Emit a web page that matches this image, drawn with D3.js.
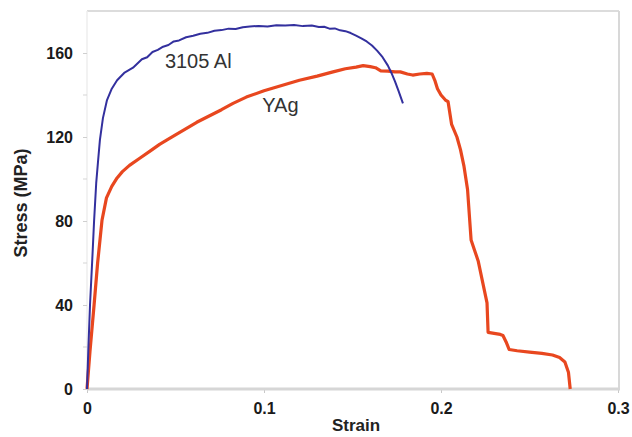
<!DOCTYPE html>
<html>
<head>
<meta charset="utf-8">
<script src="https://cdn.jsdelivr.net/npm/d3@7/dist/d3.min.js"></script>
<style>
  html, body { margin: 0; padding: 0; background: #fff; }
  svg { display: block; }
  text { font-family: Arial, "Liberation Sans", sans-serif; }
</style>
</head>
<body>
<svg id="chart" width="632" height="437"></svg>
<script>
// Tensile test curves: engineering strain vs stress (MPa)
const seriesNames = ["3105 Al", "YAg"];

const strainAl = [0, 0.0008, 0.0017, 0.003, 0.004, 0.0052, 0.0062, 0.0073, 0.009, 0.0113, 0.014, 0.017,
  0.021, 0.026, 0.031, 0.034, 0.037, 0.040, 0.043, 0.046, 0.049, 0.052, 0.056, 0.060, 0.064, 0.068,
  0.072, 0.076, 0.080, 0.084, 0.088, 0.092, 0.097, 0.102, 0.107, 0.112, 0.117, 0.122, 0.127, 0.131,
  0.134, 0.137, 0.140, 0.143, 0.146, 0.149, 0.152, 0.155, 0.158, 0.161, 0.164, 0.167, 0.170, 0.172,
  0.174, 0.176, 0.1785];
const stressAl = [0, 20, 40, 62, 80, 98, 108, 118.6, 129, 137.6, 143, 147,
  150.5, 153, 157, 158, 160.5, 161.5, 163, 163.8, 165.5, 166, 167.5, 168.2, 169.2, 169.6,
  170.6, 170.9, 171.6, 171.4, 172.3, 172.6, 172.9, 172.6, 173.2, 173.1, 173.3, 172.8, 173.1, 172.4,
  172.5, 171.6, 171.7, 170.8, 170.4, 169.5, 168.3, 167, 165.5, 163.6, 161, 158, 154, 150.5,
  146.5, 142, 136];

const strainYAg = [0, 0.0017, 0.004, 0.006, 0.0085, 0.011, 0.014, 0.017, 0.020, 0.024, 0.030, 0.036,
  0.041, 0.045, 0.050, 0.056, 0.062, 0.069, 0.076, 0.0825, 0.090, 0.100, 0.110, 0.120, 0.130,
  0.139, 0.146, 0.152, 0.156, 0.160, 0.163, 0.166, 0.170, 0.174, 0.177, 0.181, 0.184, 0.188,
  0.192, 0.195, 0.1965, 0.198, 0.2, 0.2025, 0.204, 0.206, 0.209, 0.211, 0.213, 0.215, 0.217,
  0.219, 0.221, 0.224, 0.226, 0.2266, 0.230, 0.2335, 0.235, 0.237, 0.2385, 0.243, 0.250, 0.257,
  0.263, 0.267, 0.270, 0.272, 0.273];
const stressYAg = [0, 18, 40, 60, 80.5, 91, 96.5, 100.5, 103.5, 106.5, 110, 113.5,
  116.5, 118.5, 121, 124, 127, 130, 133, 136, 139, 142, 144.5, 147, 149,
  151, 152.5, 153.3, 154, 153.5, 153, 151.5, 151.4, 151, 151, 150, 149.5, 150,
  150.3, 150, 147, 143, 140, 137.6, 136.8, 126, 120, 114, 106, 95, 71,
  66, 61, 49, 41, 27, 26.5, 26, 25.5, 22, 18.8, 18.2, 17.6, 17,
  16.2, 15, 12.9, 8, 0];

const yMajorTicks = [0, 40, 80, 120, 160];
const yMinorTicks = [20, 60, 100, 140];
const xTicks = [0, 0.1, 0.2, 0.3];
const xTickLabels = ["0", "0.1", "0.2", "0.3"];

const svg = d3.select("#chart");

const x = d3.scaleLinear().domain([0, 0.3]).range([87, 618]);
const y = d3.scaleLinear().domain([0, 180]).range([389, 11]);

// plot frame: faint top/right border and left axis line
svg.append("line").attr("x1", x(0)).attr("x2", x(0.3) + 1).attr("y1", y(180)).attr("y2", y(180))
  .attr("stroke", "#dcdcdc").attr("stroke-width", 2);
svg.append("line").attr("x1", x(0.3) + 1).attr("x2", x(0.3) + 1).attr("y1", y(180)).attr("y2", y(0))
  .attr("stroke", "#d8d8d8").attr("stroke-width", 2);
svg.append("line").attr("x1", x(0)).attr("x2", x(0)).attr("y1", y(180)).attr("y2", y(0))
  .attr("stroke", "#eeeeee").attr("stroke-width", 1.5);

// y axis
const yAxis = d3.axisLeft(y).tickValues(yMajorTicks).tickSize(4).tickPadding(10).tickFormat(d3.format("d"));
const gy = svg.append("g").attr("transform", `translate(${x(0)},0)`).call(yAxis);
gy.select(".domain").remove();
gy.selectAll(".tick line").attr("stroke", "#cfcfcf");
gy.selectAll(".tick text").attr("font-size", 16).attr("font-weight", "bold").attr("fill", "#1a1a1a")
  .attr("font-family", "Arial, 'Liberation Sans', sans-serif");
gy.selectAll(".minor").data(yMinorTicks).enter().append("line")
  .attr("class", "minor").attr("x1", -4).attr("x2", 0)
  .attr("y1", d => y(d)).attr("y2", d => y(d)).attr("stroke", "#d5d5d5");

// x axis
const xAxis = d3.axisBottom(x).tickValues(xTicks).tickSize(4).tickPadding(10)
  .tickFormat((d, i) => xTickLabels[i]);
const gx = svg.append("g").attr("transform", `translate(0,${y(0)})`).call(xAxis);
gx.select(".domain").remove();
gx.selectAll(".tick line").attr("stroke", "#c8c8c8");
gx.selectAll(".tick text").attr("font-size", 16).attr("font-weight", "bold").attr("fill", "#1a1a1a")
  .attr("font-family", "Arial, 'Liberation Sans', sans-serif");
svg.append("line").attr("x1", x(0)).attr("x2", x(0.3) + 2).attr("y1", y(0)).attr("y2", y(0))
  .attr("stroke", "#d6d6d6").attr("stroke-width", 3);

// axis titles
svg.append("text").attr("x", 356).attr("y", 431).attr("text-anchor", "middle")
  .attr("font-size", 17).attr("font-weight", "bold").attr("fill", "#222").text("Strain");
svg.append("text").attr("transform", "translate(27,203) rotate(-90)").attr("text-anchor", "middle")
  .attr("font-size", 18).attr("font-weight", "bold").attr("fill", "#222").text("Stress (MPa)");

// curves
const line = d3.line().x(d => x(d[0])).y(d => y(d[1]));
const alData = strainAl.map((s, i) => [s, stressAl[i]]);
const yagData = strainYAg.map((s, i) => [s, stressYAg[i]]);

svg.append("path").datum(yagData).attr("d", line).attr("fill", "none")
  .attr("stroke", "#e8471f").attr("stroke-width", 3.2).attr("stroke-linejoin", "round");
svg.append("path").datum(alData).attr("d", line).attr("fill", "none")
  .attr("stroke", "#33309e").attr("stroke-width", 2).attr("stroke-linejoin", "round");

// curve labels
svg.append("text").attr("x", x(0.044)).attr("y", y(152.9)).attr("font-size", 20).attr("fill", "#333")
  .text(seriesNames[0]);
svg.append("text").attr("x", x(0.099)).attr("y", y(131.9)).attr("font-size", 20).attr("fill", "#333")
  .text(seriesNames[1]);
</script>
</body>
</html>
